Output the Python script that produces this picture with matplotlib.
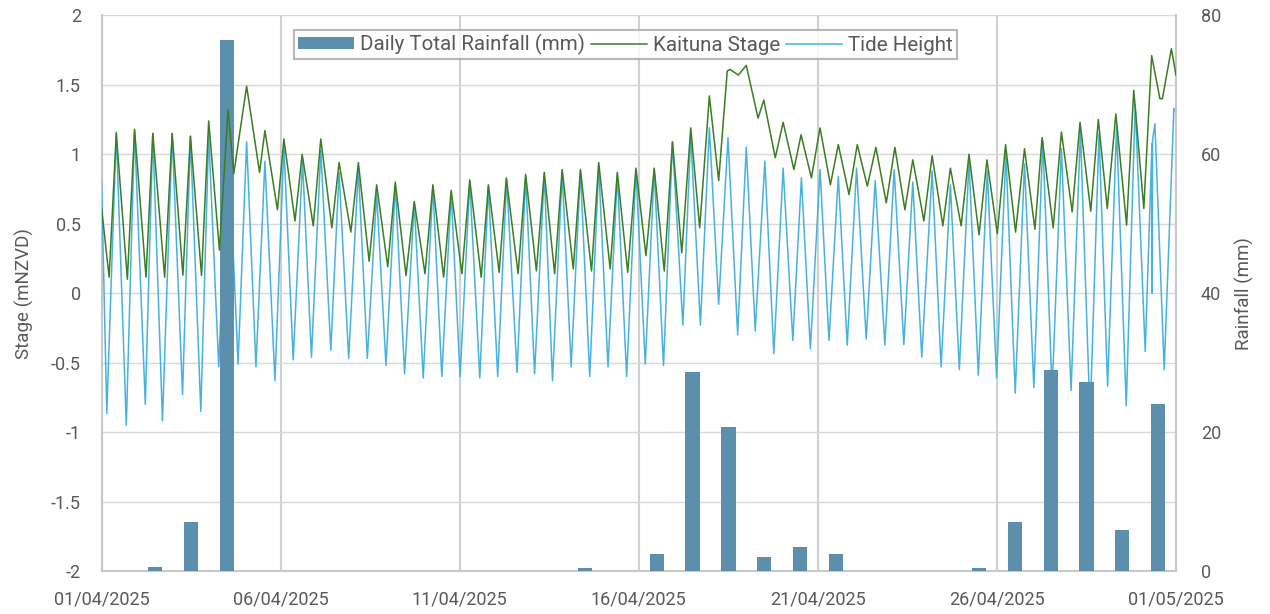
import numpy as np
import matplotlib
matplotlib.use("Agg")
import matplotlib.pyplot as plt
import matplotlib.dates as mdates
from matplotlib.patches import Patch
from matplotlib.lines import Line2D
from datetime import datetime

# ---------------- data ----------------
# times are days after 01/04/2025 00:00
tide_t = [0.00, 0.145, 0.41, 0.69, 0.92, 1.22, 1.43, 1.70, 1.97, 2.26, 2.48, 2.77, 2.99, 3.27,
          3.53, 3.81, 4.05, 4.31, 4.56, 4.84, 5.09, 5.35, 5.61, 5.86, 6.12, 6.40, 6.63, 6.90,
          7.17, 7.42, 7.68, 7.94, 8.20, 8.46, 8.73, 8.98, 9.25, 9.50, 9.76, 10.01, 10.28, 10.56,
          10.80, 11.06, 11.31, 11.60, 11.84, 12.09, 12.36, 12.59, 12.86, 13.11, 13.37, 13.63,
          13.88, 14.14, 14.40, 14.66, 14.92, 15.18, 15.43, 15.69, 15.94, 16.23, 16.45, 16.72,
          16.97, 17.23, 17.49, 17.76, 18.00, 18.25, 18.52, 18.77, 19.03, 19.30, 19.54, 19.79,
          20.06, 20.31, 20.57, 20.82, 21.08, 21.35, 21.60, 21.87, 22.13, 22.40, 22.65, 22.90,
          23.19, 23.44, 23.70, 23.95, 24.22, 24.48, 24.73, 24.99, 25.25, 25.51, 25.77, 26.03,
          26.28, 26.54, 26.80, 27.07, 27.33, 27.60, 27.85, 28.09, 28.34, 28.61, 28.86, 29.14,
          29.33, 29.335, 29.345, 29.41, 29.67, 29.94, 30.00]
tide_h = [0.80, -0.865, 1.16, -0.95, 1.17, -0.80, 1.15, -0.92, 1.15, -0.73, 1.13, -0.85, 1.14, -0.53,
          1.15, -0.51, 1.09, -0.53, 0.95, -0.63, 1.06, -0.48, 0.95, -0.46, 1.03, -0.41, 0.87, -0.47,
          0.90, -0.47, 0.72, -0.52, 0.78, -0.58, 0.65, -0.61, 0.77, -0.60, 0.72, -0.60, 0.80, -0.61,
          0.77, -0.60, 0.82, -0.57, 0.84, -0.58, 0.855, -0.63, 0.87, -0.53, 0.88, -0.60,
          0.915, -0.53, 0.855, -0.60, 0.89, -0.51, 0.89, -0.52, 1.09, -0.23, 1.14, -0.23,
          1.19, -0.08, 1.12, -0.30, 1.05, -0.27, 0.95, -0.435, 0.90, -0.34, 0.83, -0.40,
          0.89, -0.34, 0.84, -0.375, 0.90, -0.33, 0.81, -0.375, 0.89, -0.37, 0.80, -0.46,
          0.88, -0.53, 0.78, -0.55, 0.95, -0.59, 0.88, -0.61, 1.01, -0.72, 0.93, -0.68,
          1.10, -0.71, 1.04, -0.70, 1.17, -0.90, 1.15, -0.67, 1.20, -0.81, 1.36, -0.42,
          1.08, 0.00, 1.10, 1.22, -0.55, 1.33, 1.30]

stage_t = [0.00, 0.21, 0.41, 0.72, 0.92, 1.24, 1.43, 1.76, 1.97, 2.27, 2.48, 2.79, 2.99, 3.29,
           3.53, 3.69, 4.05, 4.41, 4.56, 4.91, 5.09, 5.40, 5.60, 5.91, 6.12, 6.43, 6.63, 6.96,
           7.17, 7.47, 7.68, 7.99, 8.20, 8.50, 8.73, 9.03, 9.25, 9.55, 9.76, 10.06, 10.28, 10.60,
           10.80, 11.10, 11.30, 11.63, 11.84, 12.14, 12.36, 12.65, 12.86, 13.17, 13.37, 13.68,
           13.88, 14.20, 14.40, 14.69, 14.92, 15.20, 15.43, 15.71, 15.94, 16.20, 16.45, 16.70,
           16.97, 17.23, 17.47, 17.55, 17.78, 18.00, 18.33, 18.49, 18.81, 19.03, 19.33, 19.53,
           19.82, 20.06, 20.35, 20.57, 20.87, 21.10, 21.38, 21.62, 21.91, 22.15, 22.43, 22.65,
           22.96, 23.19, 23.49, 23.70, 24.00, 24.22, 24.50, 24.72, 25.01, 25.24, 25.52, 25.77,
           26.06, 26.26, 26.57, 26.80, 27.10, 27.32, 27.62, 27.83, 28.08, 28.32, 28.62, 28.82,
           29.10, 29.32, 29.55, 29.62, 29.87, 30.00]
stage_h = [0.61, 0.115, 1.15, 0.10, 1.18, 0.115, 1.15, 0.115, 1.15, 0.13, 1.13, 0.127, 1.24, 0.31,
           1.32, 0.86, 1.49, 0.87, 1.17, 0.60, 1.11, 0.52, 1.00, 0.485, 1.11, 0.47, 0.94, 0.44,
           0.94, 0.23, 0.78, 0.19, 0.80, 0.127, 0.66, 0.14, 0.78, 0.115, 0.74, 0.14, 0.815, 0.115,
           0.78, 0.15, 0.83, 0.14, 0.855, 0.16, 0.87, 0.14, 0.89, 0.175, 0.89, 0.16,
           0.94, 0.175, 0.87, 0.15, 0.90, 0.27, 0.90, 0.16, 1.09, 0.29, 1.19, 0.47,
           1.42, 0.81, 1.60, 1.61, 1.57, 1.64, 1.26, 1.39, 0.975, 1.23, 0.89, 1.14,
           0.83, 1.19, 0.78, 1.07, 0.71, 1.07, 0.77, 1.05, 0.65, 1.05, 0.60, 0.96,
           0.52, 0.99, 0.485, 0.90, 0.485, 1.00, 0.42, 0.96, 0.43, 1.07, 0.44, 1.04,
           0.46, 1.12, 0.47, 1.16, 0.585, 1.23, 0.59, 1.25, 0.61, 1.29, 0.49, 1.46,
           0.61, 1.71, 1.40, 1.40, 1.76, 1.57]

rain_dates = ["2025-04-02", "2025-04-03", "2025-04-04", "2025-04-14", "2025-04-16",
              "2025-04-17", "2025-04-18", "2025-04-19", "2025-04-20", "2025-04-21",
              "2025-04-25", "2025-04-26", "2025-04-27", "2025-04-28", "2025-04-29",
              "2025-04-30"]
rain_mm = [0.6, 7.0, 76.4, 0.4, 2.4, 28.6, 20.7, 2.0, 3.4, 2.5, 0.4, 7.0, 29.0, 27.2, 5.9, 24.0]

x_ticks = ["2025-04-01", "2025-04-06", "2025-04-11", "2025-04-16", "2025-04-21",
           "2025-04-26", "2025-05-01"]

# ---------------- styling ----------------
C_BAR = "#5b8fab"
C_STAGE = "#3a7d22"
C_TIDE = "#47b2df"
C_TXT = "#595959"
C_GRID = "#d9d9d9"
FONT = ["Roboto", "DejaVu Sans"]
plt.rcParams["font.family"] = FONT

t0 = mdates.date2num(datetime(2025, 4, 1))
tide_x = t0 + np.array(tide_t)
stage_x = t0 + np.array(stage_t)
rain_x = np.array([mdates.date2num(datetime.strptime(d, "%Y-%m-%d")) for d in rain_dates]) + 0.5
tick_x = [mdates.date2num(datetime.strptime(d, "%Y-%m-%d")) for d in x_ticks]

fig = plt.figure(figsize=(12.7, 6.14), dpi=100)
ax1 = fig.add_axes([0.080, 0.070, 0.846, 0.905])
ax2 = ax1.twinx()

ax1.plot(tide_x, tide_h, color=C_TIDE, lw=1.1, zorder=3)
ax2.bar(rain_x, rain_mm, width=0.4, color=C_BAR, zorder=2)
ax2.plot(stage_x, stage_h, color=C_STAGE, lw=1.1, zorder=4, transform=ax1.transData)

ax1.set_xlim(tick_x[0], tick_x[-1])
ax1.set_ylim(-2, 2)
ax2.set_ylim(0, 80)
ax1.set_yticks(np.arange(-2, 2.01, 0.5))
ax1.set_yticklabels(["-2", "-1.5", "-1", "-0.5", "0", "0.5", "1", "1.5", "2"])
ax2.set_yticks([0, 20, 40, 60, 80])
ax1.set_xticks(tick_x)
ax1.xaxis.set_major_formatter(mdates.DateFormatter("%d/%m/%Y"))

ax1.grid(True, axis="y", color=C_GRID, lw=1.0)
ax1.grid(True, axis="x", color="#d0d0d0", lw=1.5)
ax1.set_axisbelow(True)

for ax in (ax1, ax2):
    for s in ax.spines.values():
        s.set_visible(False)
    ax.tick_params(length=0, colors=C_TXT, labelsize=13)
ax1.spines["bottom"].set_visible(True)
ax1.spines["bottom"].set_color("#c8c8c8")
ax1.spines["bottom"].set_linewidth(1.5)
ax1.spines["left"].set_visible(True)
ax1.spines["left"].set_color("#c8c8c8")
ax1.spines["left"].set_linewidth(1.5)
ax2.spines["right"].set_visible(True)
ax2.spines["right"].set_color("#c8c8c8")
ax2.spines["right"].set_linewidth(1.5)
ax1.tick_params(axis="y", pad=15)
ax2.tick_params(axis="y", pad=18)
ax1.tick_params(axis="x", pad=14)

ax1.set_ylabel("Stage (mNZVD)", color=C_TXT, fontsize=13.5, labelpad=12)
ax2.set_ylabel("Rainfall (mm)", color=C_TXT, fontsize=13.5, labelpad=10)

handles = [Patch(facecolor=C_BAR, edgecolor="none"),
           Line2D([], [], color=C_STAGE, lw=1.1),
           Line2D([], [], color=C_TIDE, lw=1.1)]
labels = ["Daily Total Rainfall (mm)", "Kaituna Stage", "Tide Height"]
leg = ax2.legend(handles, labels, loc="upper center", bbox_to_anchor=(0.4876, 0.9736),
                 borderaxespad=0, ncol=3, fontsize=14.8, frameon=True, fancybox=False,
                 handlelength=2.7, handleheight=0.5, columnspacing=0.3, handletextpad=0.3,
                 borderpad=0.2, labelcolor=C_TXT)
leg.get_frame().set_edgecolor("#a6a6a6")
leg.get_frame().set_linewidth(1.5)
leg.set_zorder(10)

fig.savefig("out.png", dpi=100)
